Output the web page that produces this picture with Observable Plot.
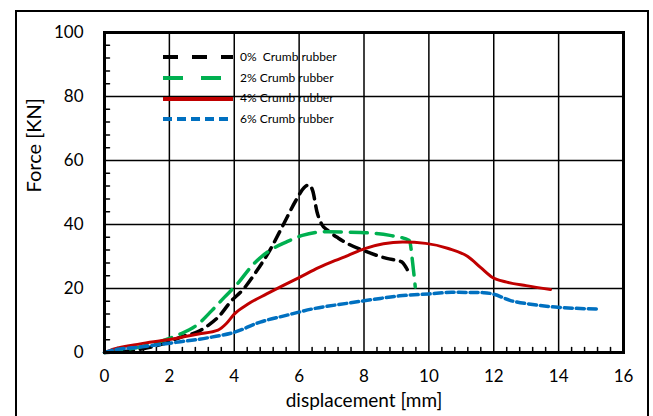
<!DOCTYPE html>
<html>
<head>
<meta charset="utf-8">
<script src="https://cdn.jsdelivr.net/npm/d3@7"></script>
<script src="https://cdn.jsdelivr.net/npm/@observablehq/plot@0.6"></script>
<style>
  html, body { margin: 0; padding: 0; background: #fff; overflow: hidden; }
  #wrap { position: relative; width: 653px; height: 416px; font-family: Lato, "Open Sans", sans-serif; }
  #outer { position: absolute; left: 15px; top: 10px; width: 634px; height: 440px; border: 2px solid #000; border-bottom: none; box-sizing: border-box; pointer-events: none; }
  #legend { position: absolute; left: 163px; top: 47px; font-size: 12px; line-height: 20.7px; color: #000; }
  #legend .row { display: flex; align-items: center; height: 20.7px; }
  #legend svg { margin-right: 7px; }
</style>
</head>
<body>
<div id="wrap"><div id="outer"></div><div id="legend"></div></div>
<script>
// Data
const xTicks = [0, 2, 4, 6, 8, 10, 12, 14, 16];
const yTicks = [0, 20, 40, 60, 80, 100];
const seriesNames = ["0%  Crumb rubber", "2% Crumb rubber", "4% Crumb rubber", "6% Crumb rubber"];
const seriesColors = ["#000000", "#00b050", "#c00000", "#0070c0"];
const seriesDash = ["11,7", "17,9", null, "8,4"];
const legendDash = ["15,14", "20,18", null, "9,5"];

const disp0 = [0, 0.7, 1.4, 1.9, 2.4, 2.9, 3.2, 3.5, 3.9, 4.3, 4.7, 5.1, 5.5, 5.9, 6.15, 6.3, 6.42, 6.55, 6.7, 6.9, 7.2, 7.5, 8.0, 8.7, 9.15, 9.3, 9.38];
const force0 = [0, 0.4, 1.6, 3.0, 5.0, 6.6, 8.5, 11, 16, 20, 25.6, 32, 39.7, 47.5, 51.5, 52.4, 50.5, 44, 40, 38, 35.8, 34, 31.8, 29.4, 28.4, 26.5, 25];

const disp2 = [0, 0.6, 1.2, 1.8, 2.3, 2.9, 3.3, 3.7, 4.1, 4.6, 5.1, 5.6, 6.1, 6.8, 7.9, 8.8, 9.4, 9.5, 9.58];
const force2 = [0, 0.8, 2.0, 3.7, 5.6, 9, 13, 17.3, 21.5, 27.7, 31.9, 34.5, 36.6, 37.7, 37.5, 36.6, 35, 28, 20.5];

const disp4 = [0, 0.3, 1.1, 1.9, 2.9, 3.5, 3.75, 4.0, 4.4, 5.0, 5.5, 6.0, 6.6, 7.1, 7.5, 8.0, 8.6, 9.2, 9.9, 10.6, 11.2, 11.6, 11.95, 12.4, 13.0, 13.75];
const force4 = [0, 1.1, 2.7, 3.9, 5.8, 7, 9, 12, 15, 18.3, 20.9, 23.4, 26.5, 28.7, 30.3, 32.4, 34, 34.5, 34.1, 32.5, 30, 26.5, 23.5, 22, 20.9, 19.7];

const disp6 = [0, 0.2, 1.1, 2.0, 3.3, 4.0, 4.8, 5.6, 6.4, 7.5, 8.3, 9.1, 10.0, 10.7, 11.7, 12.0, 12.5, 13.2, 13.9, 15.2];
const force6 = [0, 0.6, 1.7, 2.9, 4.8, 6.3, 9.5, 11.6, 13.6, 15.4, 16.6, 17.7, 18.3, 18.8, 18.7, 18.2, 16.3, 15, 14.2, 13.6];

const allDisp = [disp0, disp2, disp4, disp6];
const allForce = [force0, force2, force4, force6];

const series = allDisp.map((xs, i) => xs.map((x, j) => ({x, y: allForce[i][j], s: i})));

const minorX = d3.range(0, 16.001, 0.4).filter(v => Math.abs(v / 2 - Math.round(v / 2)) > 1e-6);
const minorY = d3.range(0, 100.001, 4).filter(v => v % 20 !== 0);

const tickShape = {draw(ctx, l) { ctx.moveTo(0, 0); ctx.lineTo(0, -l); }};

const marks = [
  Plot.gridX(xTicks, {stroke: "#000", strokeOpacity: 1, strokeWidth: 1.5}),
  Plot.gridY(yTicks, {stroke: "#000", strokeOpacity: 1, strokeWidth: 1.5}),
  Plot.vector(minorX, {x: d => d, frameAnchor: "bottom", length: 5, rotate: 0, anchor: "start", shape: tickShape, stroke: "#000", strokeWidth: 1.5}),
  Plot.vector(minorY, {y: d => d, frameAnchor: "left", length: 5, rotate: 90, anchor: "start", shape: tickShape, stroke: "#000", strokeWidth: 1.5}),
  Plot.axisX({ticks: xTicks, tickSize: 0, tickPadding: 17, fontSize: 17, label: null}),
  Plot.axisY({ticks: yTicks, tickSize: 0, tickPadding: 21, fontSize: 17, label: null}),
  ...series.map((d, i) => Plot.line(d, {
    x: "x", y: "y", stroke: seriesColors[i], strokeWidth: i === 2 ? 3 : 3.5,
    strokeDasharray: seriesDash[i], curve: "monotone-x"
  })),
  Plot.frame({stroke: "#000", strokeWidth: 3}),
  Plot.text(["displacement [mm]"], {frameAnchor: "bottom", dy: 54, fontSize: 19, fill: "#000"}),
  Plot.text(["Force [KN]"], {frameAnchor: "left", dx: -70, rotate: -90, fontSize: 20, fill: "#000"})
];

const chart = Plot.plot({
  width: 653, height: 416,
  marginLeft: 104, marginRight: 30, marginTop: 32, marginBottom: 64,
  style: {fontFamily: "Lato, 'Open Sans', sans-serif", color: "#000", background: "transparent"},
  x: {domain: [0, 16], axis: null},
  y: {domain: [0, 100], axis: null},
  marks
});
document.getElementById("wrap").prepend(chart);

// Legend
const legend = document.getElementById("legend");
seriesNames.forEach((name, i) => {
  const row = document.createElement("div");
  row.className = "row";
  const ns = "http://www.w3.org/2000/svg";
  const svg = document.createElementNS(ns, "svg");
  svg.setAttribute("width", 70); svg.setAttribute("height", 8);
  const ln = document.createElementNS(ns, "line");
  ln.setAttribute("x1", 0); ln.setAttribute("x2", 70);
  ln.setAttribute("y1", 4); ln.setAttribute("y2", 4);
  ln.setAttribute("stroke", seriesColors[i]);
  ln.setAttribute("stroke-width", 4);
  if (legendDash[i]) ln.setAttribute("stroke-dasharray", legendDash[i]);
  svg.appendChild(ln);
  row.appendChild(svg);
  const span = document.createElement("span");
  span.textContent = name;
  span.style.whiteSpace = "pre";
  row.appendChild(span);
  legend.appendChild(row);
});
</script>
</body>
</html>
